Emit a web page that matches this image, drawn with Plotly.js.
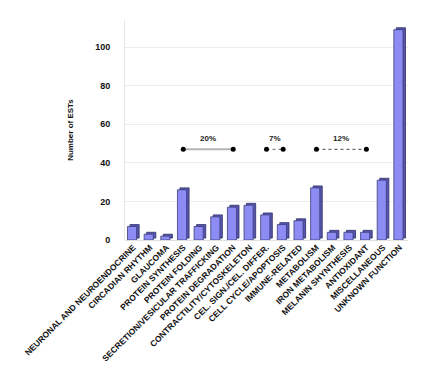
<!DOCTYPE html>
<html><head><meta charset="utf-8">
<script src="https://cdn.plot.ly/plotly-3.0.1.min.js"></script>
<style>html,body{margin:0;padding:0;background:#fff}</style>
</head><body><div id="chart" style="width:432px;height:385px"></div>
<script>
const categories = ["NEURONAL AND NEUROENDOCRINE","CIRCADIAN RHYTHM","GLAUCOMA","PROTEIN SYNTHESIS","PROTEIN FOLDING","SECRETION/VESICULAR TRAFFICKING","PROTEIN DEGRADATION","CONTRACTILITY/CYTOSKELETON","CEL. SIGN./CEL. DIFFER.","CELL CYCLE/APOPTOSIS","IMMUNE-RELATED","METABOLISM","IRON METABOLISM","MELANIN SHYNTHESIS","ANTIOXIDANT","MISCELLANEOUS","UNKNOWN FUNCTION"];
const counts = [7,3,2,26,7,12,17,18,13,8,10,27,4,4,4,31,109];
const groupLabels = ["20%","7%","12%"];
const groupStart = ["PROTEIN SYNTHESIS","CEL. SIGN./CEL. DIFFER.","METABOLISM"];
const groupEnd = ["PROTEIN DEGRADATION","CELL CYCLE/APOPTOSIS","ANTIOXIDANT"];
const groupMid = [4.5, 8.5, 12.5];
const groupLevel = 47;

const font = "Arial, 'Liberation Sans', sans-serif";
const traces = [];
// side/depth face
traces.push({type:'bar', x:categories, y:counts, base:1.0, width:0.55, offset:-0.2,
  marker:{color:'#5656b0', line:{color:'#2e2e66', width:0.8}}, hoverinfo:'skip', showlegend:false});
// front face
traces.push({type:'bar', x:categories, y:counts, width:0.55, offset:-0.35,
  marker:{color:'#8c8cf4', line:{color:'#3c3c78', width:0.8}}, showlegend:false});
const lineStyles = [
  {color:'#b4b4b4', width:2, dash:'solid'},
  {color:'#666666', width:1, dash:'dot'},
  {color:'#444444', width:1, dash:'dot'}
];
for (let i=0;i<groupLabels.length;i++){
  traces.push({type:'scatter', mode:'lines+markers', x:[groupStart[i], groupEnd[i]], y:[groupLevel, groupLevel],
    line:lineStyles[i], marker:{color:'#000', size:5}, showlegend:false, hoverinfo:'skip'});
}
const annotations = groupLabels.map((t,i)=>({
  x: groupMid[i], y: groupLevel+5.5, xref:'x', yref:'y', text:t, showarrow:false,
  font:{family:font, size:8, color:'#222', weight:'bold'}
}));
const layout = {
  width:432, height:385,
  margin:{l:125, r:24, t:20, b:145},
  paper_bgcolor:'#fff', plot_bgcolor:'#fff',
  barmode:'overlay',
  xaxis:{type:'category', tickangle:-45, tickfont:{family:font, size:8.5, color:'#111', weight:'bold'},
    showgrid:false, showline:false, zeroline:false, ticks:'', range:[-0.5,16.5]},
  yaxis:{range:[0,114], tickvals:[0,20,40,60,80,100], showgrid:true, gridcolor:'#ececec', gridwidth:1,
    zeroline:true, zerolinecolor:'#e0e0e0', showline:true, linecolor:'#e6e6e6',
    tickfont:{family:font, size:9, color:'#111', weight:'bold'}, ticklabelstandoff:12,
    title:{text:'Number of ESTs', font:{family:font, size:8, color:'#111', weight:'bold'}, standoff:20}},
  annotations: annotations,
  font:{family:font}
};
Plotly.newPlot('chart', traces, layout, {displayModeBar:false, staticPlot:true});
</script></body></html>
